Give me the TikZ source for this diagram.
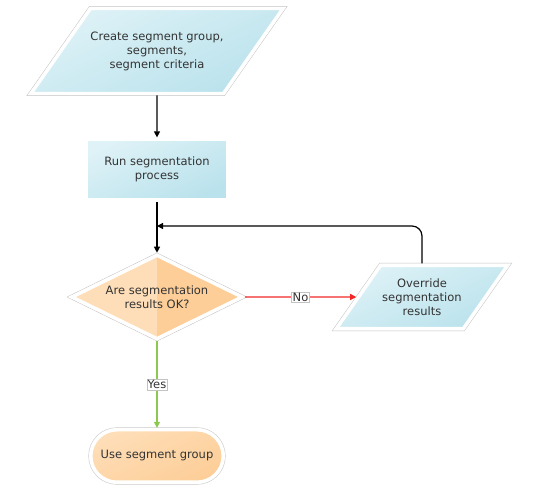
\documentclass[tikz,border=0pt]{standalone}
\usepackage{fontspec}
\setmainfont{DejaVu Sans}
\usetikzlibrary{shapes.geometric,shapes.misc,arrows.meta,positioning}
\definecolor{bluelite}{RGB}{222,242,247}
\definecolor{bluedeep}{RGB}{186,226,236}
\definecolor{orglite}{RGB}{254,222,184}
\definecolor{orgdeep}{RGB}{253,206,152}
\definecolor{textgray}{RGB}{51,51,51}
\definecolor{rimgray}{RGB}{195,195,195}
\definecolor{nored}{RGB}{240,40,40}
\definecolor{yesgreen}{RGB}{140,200,80}
\begin{document}
\begin{tikzpicture}[x=1pt,y=1pt,
    every node/.style={font=\fontsize{11.5}{14}\selectfont,text=textgray,align=center},
    rim/.style={preaction={draw=rimgray,line width=4.6pt},draw=white,line width=3.6pt},
    bluefill/.style={top color=bluelite,bottom color=bluedeep,shading angle=25},
    para/.style={rim,bluefill,trapezium,trapezium left angle=55,trapezium right angle=125,
        trapezium stretches body,inner xsep=0pt},
    stepbox/.style={rim,bluefill,rectangle,minimum width=141.6pt,minimum height=60.6pt,inner sep=0pt},
    query/.style={rim,fill=orglite,diamond,aspect=2.05,minimum width=172pt,minimum height=85pt,inner sep=0pt,
        path picture={\fill[orgdeep] (path picture bounding box.north) rectangle (path picture bounding box.south east);}},
    finish/.style={rim,top color=orglite,bottom color=orgdeep,shading angle=25,rounded rectangle,
        minimum width=132.6pt,minimum height=52.6pt,inner sep=0pt},
    flow/.style={line width=1.2pt,-{Triangle[length=6pt,width=6pt]}},
    tag/.style={fill=white,draw=rimgray,line width=0.4pt,inner sep=1pt}
  ]
    \useasboundingbox (0,0) rectangle (533,490);

    \node[para,inner ysep=23.1pt,minimum width=245pt] (create) at (157,439)
        {Create segment group,\\segments,\\segment criteria};
    \node[stepbox] (run) at (157,320.5) {Run segmentation\\process};
    \node[query] (check) at (157,193) {Are segmentation\\results OK?};
    \node[para,inner ysep=13.3pt,minimum width=171.6pt] (override) at (422,193)
        {Override\\segmentation\\results};
    \node[finish] (use) at (157,34) {Use segment group};
    \coordinate (join) at (157,264);

    \draw[flow] (create) -- (run);
    \draw[flow] (run) -- (check);
    \draw[flow,nored] (check.east) -- node[tag]{No} (override.west);
    \draw[flow,rounded corners=10pt] (override.north) |- (join);
    \draw[flow,yesgreen] (check.south) -- node[tag]{Yes} (use.north);
\end{tikzpicture}
\end{document}
